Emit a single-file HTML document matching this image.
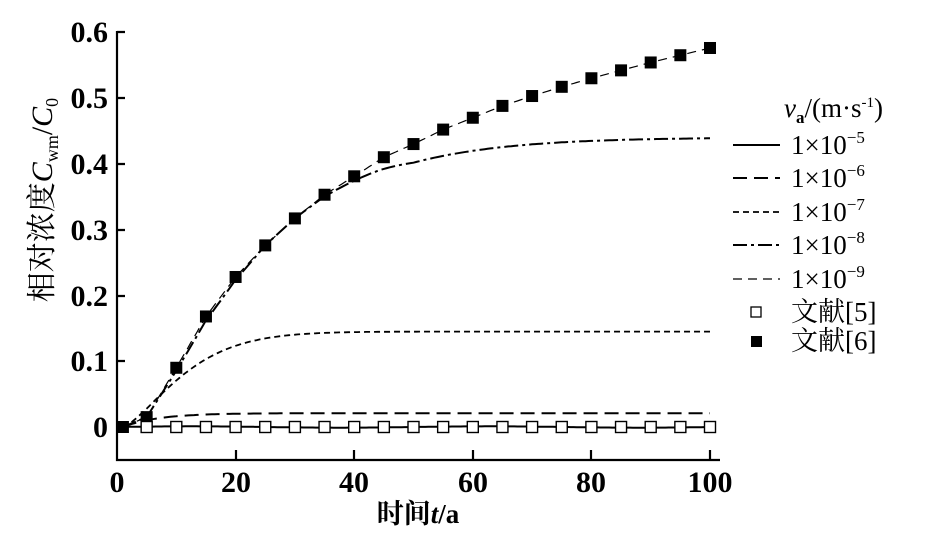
<!DOCTYPE html>
<html><head><meta charset="utf-8"><style>
html,body{margin:0;padding:0;background:#fff;}
svg{display:block;}
text{font-family:"Liberation Serif","Noto Serif CJK SC",serif;fill:#000;}
</style></head><body>
<svg id="s" width="930" height="535" viewBox="0 0 930 535" xmlns="http://www.w3.org/2000/svg">
<g stroke="#000" stroke-width="2.2" fill="none">
<path d="M117 31 V460 H720"/>
<path d="M117 32 h8 M117 98 h8 M117 164 h8 M117 230 h8 M117 296 h8 M117 361 h8 M117 427 h8"/>
<path d="M236 460 v-10 M354 460 v-10 M473 460 v-10 M591 460 v-10 M710 460 v-10"/>
</g>
<g font-size="30" font-weight="bold" text-anchor="end">
<text x="108" y="42">0.6</text><text x="108" y="108">0.5</text><text x="108" y="174">0.4</text>
<text x="108" y="240">0.3</text><text x="108" y="306">0.2</text><text x="108" y="371">0.1</text>
<text x="108" y="437">0</text>
</g>
<g font-size="30" font-weight="bold" text-anchor="middle">
<text x="117" y="492">0</text><text x="236" y="492">20</text><text x="354" y="492">40</text>
<text x="473" y="492">60</text><text x="591" y="492">80</text><text x="710" y="492">100</text>
</g>
<text x="418" y="523" font-size="27" font-weight="bold" text-anchor="middle">时间<tspan font-style="italic">t</tspan>/a</text>
<text transform="translate(52,200) rotate(-90)" font-size="30" text-anchor="middle">相对浓度<tspan font-style="italic">C</tspan><tspan font-size="18" dy="6">wm</tspan><tspan dy="-6">/</tspan><tspan font-style="italic">C</tspan><tspan font-size="18" dy="6">0</tspan></text>
<g id="curves" fill="none" stroke="#000"></g>
<g id="marks"></g>
<g font-size="27">
<text x="784" y="117"><tspan font-style="italic">v</tspan><tspan font-size="17" dy="6" font-weight="bold">a</tspan><tspan dy="-6">/(m·s</tspan><tspan font-size="15" dy="-10">-1</tspan><tspan dy="10">)</tspan></text>
<text x="791" y="154">1×10<tspan font-size="17" dy="-11">−5</tspan></text>
<text x="791" y="187">1×10<tspan font-size="17" dy="-11">−6</tspan></text>
<text x="791" y="221">1×10<tspan font-size="17" dy="-11">−7</tspan></text>
<text x="791" y="254">1×10<tspan font-size="17" dy="-11">−8</tspan></text>
<text x="791" y="288">1×10<tspan font-size="17" dy="-11">−9</tspan></text>
<text x="791" y="321">文献[5]</text>
<text x="791" y="350">文献[6]</text>
</g>
<g stroke="#000" fill="none">
<path d="M733 145 H780" stroke-width="2"/>
<path d="M733 178 H780" stroke-width="2" stroke-dasharray="14 7"/>
<path d="M733 212 H780" stroke-width="1.8" stroke-dasharray="6 4"/>
<path d="M733 245 H780" stroke-width="2" stroke-dasharray="14 4 3 4"/>
<path d="M733 279 H780" stroke-width="1.2" stroke-dasharray="9 6"/>
<rect x="751" y="307" width="10" height="10" stroke-width="1.3" fill="#fff"/>
<rect x="751" y="336" width="11" height="11" fill="#000" stroke="none"/>
</g>
</svg>
<script>
var X=function(t){return 117+t*5.93},Y=function(v){return 427-v*658};
var ts=[1,5,10,15,20,25,30,35,40,45,50,55,60,65,70,75,80,85,90,95,100];
var r6=[0,0.015,0.09,0.168,0.228,0.276,0.317,0.353,0.381,0.41,0.43,0.452,0.47,0.488,0.503,0.517,0.53,0.542,0.554,0.565,0.576];
function pl(f,t0){var d="";for(var t=t0;t<=100;t+=0.5){d+=(d?"L":"M")+X(t).toFixed(1)+" "+Y(f(t)).toFixed(1);}return d;}
function interp(t){for(var i=0;i<ts.length-1;i++){if(t<=ts[i+1]){var a=(t-ts[i])/(ts[i+1]-ts[i]);return r6[i]+a*(r6[i+1]-r6[i]);}}return r6[r6.length-1];}
var g=document.getElementById("curves"),ns="http://www.w3.org/2000/svg";
function add(d,w,da){var p=document.createElementNS(ns,"path");p.setAttribute("d",d);p.setAttribute("stroke-width",w);if(da)p.setAttribute("stroke-dasharray",da);g.appendChild(p);}
add(pl(function(t){return 0.001*Math.sin(t/8);},1),2);
add(pl(function(t){var u=Math.max(t-1,0);return 0.021*(1-Math.exp(-u/6));},1),2,"14 7");
add(pl(function(t){var u=Math.max(t-1,0);return 0.145*(1-Math.exp(-Math.pow(u/12,1.4)));},1),1.8,"6 4");
function c8(t){var sat=0.44*(1-Math.exp(-Math.pow(Math.max(t-1,0)/24,1.25)));var a=Math.min(Math.max((t-25)/25,0),1);return t<25?interp(t)-0.006*Math.sin(Math.PI*Math.max(t-5,0)/20):interp(t)*(1-a)+sat*a;}
add(pl(c8,1),2,"14 4 3 4");
add(pl(interp,1),1.2,"9 6");
var m=document.getElementById("marks"),s="";
for(var i=0;i<ts.length;i++){s+='<rect x="'+(X(ts[i])-6)+'" y="'+(Y(r6[i])-6)+'" width="12" height="12" fill="#000"/>';}
for(var t=5;t<=100;t+=5){s+='<rect x="'+(X(t)-5.5)+'" y="'+(Y(0.0)-5.5)+'" width="11" height="11" fill="#fff" stroke="#000" stroke-width="1.4"/>';}
m.innerHTML=s;
</script>
</body></html>
